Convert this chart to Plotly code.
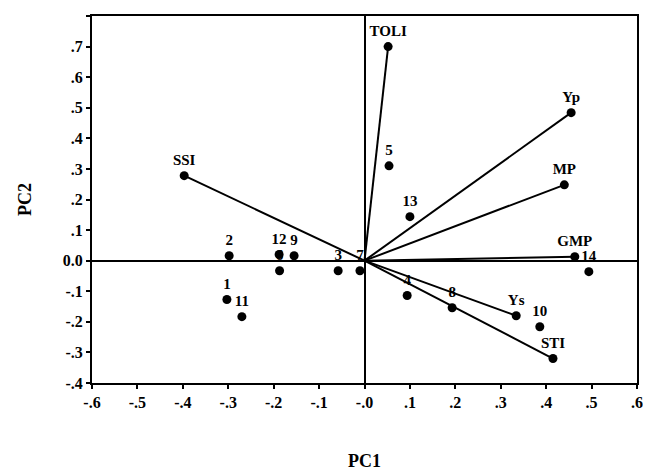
import plotly.graph_objects as go

# Trait vectors (loadings)
traits = ["TOLI", "Yp", "MP", "GMP", "SSI", "Ys", "STI"]
trait_pc1 = [0.052, 0.455, 0.44, 0.463, -0.397, 0.334, 0.415]
trait_pc2 = [0.70, 0.484, 0.248, 0.013, 0.278, -0.18, -0.32]

# Genotype scores
genotypes = ["1", "2", "3", "4", "5", "6", "7", "8", "9", "10", "11", "12", "13", "14"]
geno_pc1 = [-0.303, -0.298, -0.058, 0.094, 0.054, -0.187, -0.01, 0.193, -0.155, 0.386, -0.27, -0.188, 0.1, 0.494]
geno_pc2 = [-0.127, 0.016, -0.033, -0.114, 0.31, -0.033, -0.033, -0.154, 0.016, -0.216, -0.183, 0.02, 0.144, -0.036]

x_ticks = [-0.6, -0.5, -0.4, -0.3, -0.2, -0.1, 0.0, 0.1, 0.2, 0.3, 0.4, 0.5, 0.6]
x_ticktext = ["-.6", "-.5", "-.4", "-.3", "-.2", "-.1", "-.0", ".1", ".2", ".3", ".4", ".5", ".6"]
y_ticks = [-0.4, -0.3, -0.2, -0.1, 0.0, 0.1, 0.2, 0.3, 0.4, 0.5, 0.6, 0.7, 0.8]
y_ticktext = ["-.4", "-.3", "-.2", "-.1", "0.0", ".1", ".2", ".3", ".4", ".5", ".6", ".7", ".8"]

FONT = "Liberation Serif"
fig = go.Figure()

for name, xv, yv in zip(traits, trait_pc1, trait_pc2):
    fig.add_trace(go.Scatter(x=[0, xv], y=[0, yv], mode="lines",
                             line=dict(color="black", width=2), showlegend=False,
                             hoverinfo="skip"))

fig.add_trace(go.Scatter(x=trait_pc1, y=trait_pc2, mode="markers+text", text=traits,
                         textposition="top center",
                         textfont=dict(family=FONT, size=15, color="black", weight="bold"),
                         marker=dict(color="black", size=9), showlegend=False))

fig.add_trace(go.Scatter(x=geno_pc1, y=geno_pc2, mode="markers+text", text=genotypes,
                         textposition="top center",
                         textfont=dict(family=FONT, size=15, color="black", weight="bold"),
                         marker=dict(color="black", size=9), showlegend=False))

fig.update_layout(
    width=643, height=466,
    margin=dict(l=84, r=14, t=8, b=91),
    paper_bgcolor="white", plot_bgcolor="white",
    font=dict(family=FONT, color="black", size=15, weight="bold"),
    xaxis=dict(range=[-0.6, 0.6], tickvals=x_ticks,
               ticktext=["<b>" + t + "</b>" for t in x_ticktext],
               automargin=False,
               showline=True, linecolor="black", linewidth=2, mirror=True,
               ticks="outside", ticklen=4, tickwidth=2, tickcolor="black",
               showgrid=False, zeroline=True, zerolinecolor="black", zerolinewidth=2,
               tickfont=dict(family=FONT, size=16, color="black", weight="bold"),
               title=dict(text="<b>PC1</b>", font=dict(family=FONT, size=18, weight="bold"), standoff=44)),
    yaxis=dict(range=[-0.4, 0.8], tickvals=y_ticks,
               ticktext=["<b>" + t + "</b>" for t in y_ticktext],
               automargin=False,
               showline=True, linecolor="black", linewidth=2, mirror=True,
               ticks="outside", ticklen=4, tickwidth=2, tickcolor="black",
               showgrid=False, zeroline=True, zerolinecolor="black", zerolinewidth=2,
               tickfont=dict(family=FONT, size=16, color="black", weight="bold"),
               title=dict(text="<b>PC2</b>", font=dict(family=FONT, size=18, weight="bold"), standoff=26)),
)

fig.write_html("out.html")
